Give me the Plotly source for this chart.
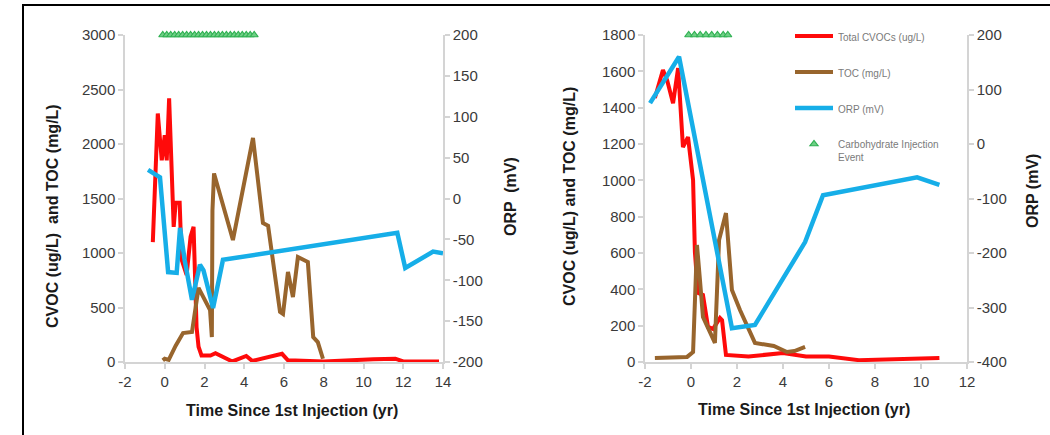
import plotly.graph_objects as go

# ---------------- Left panel data ----------------
L_cvoc_x = [-0.6, -0.35, -0.15, 0.0, 0.1, 0.22, 0.45, 0.55, 0.75, 0.85, 1.1, 1.3, 1.45,
            1.6, 1.7, 1.85, 2.3, 2.55, 3.4, 4.1, 4.4, 5.9, 6.2, 8.0, 10.5, 11.6, 12.0, 13.8]
L_cvoc_y = [1100, 2280, 1850, 2080, 1850, 2420, 1240, 1460, 1460, 940, 800, 1150, 1240,
            320, 140, 60, 60, 80, 5, 55, 10, 75, 15, 5, 25, 30, 5, 5]

L_toc_x = [-0.1, 0.0, 0.2, 0.55, 0.92, 1.37, 1.7, 1.95, 2.28, 2.37, 2.4, 2.48, 3.43,
           4.44, 4.94, 5.2, 5.8, 5.95, 6.2, 6.45, 6.7, 7.2, 7.47, 7.7, 7.96]
L_toc_y = [15, 30, 20, 150, 266, 275, 680, 600, 477, 229, 1390, 1730, 1119,
           2055, 1275, 1250, 459, 440, 826, 596, 963, 917, 229, 183, 30]

L_orp_x = [-0.84, -0.24, 0.17, 0.6, 0.77, 1.0, 1.37, 1.77, 1.95, 2.43, 2.93, 11.7, 12.1, 13.5, 14.0]
L_orp_y = [35, 26, -90, -91, -36, -75, -124, -81, -88, -134, -75, -42, -85, -65, -67]

L_inj_x = [-0.1, 0.1, 0.3, 0.5, 0.7, 0.9, 1.1, 1.3, 1.5, 1.7, 1.9, 2.1, 2.3, 2.5,
           2.7, 2.9, 3.1, 3.3, 3.5, 3.7, 3.9, 4.1, 4.3, 4.5]
L_inj_y = [3000] * len(L_inj_x)

# ---------------- Right panel data ----------------
R_cvoc_x = [-1.57, -1.22, -1.04, -0.78, -0.56, -0.35, -0.13, 0.09, 0.17, 0.3, 0.52, 0.74,
            0.96, 1.26, 1.35, 1.52, 2.5, 4.0, 5.0, 6.0, 7.3, 10.8]
R_cvoc_y = [1453, 1607, 1552, 1425, 1618, 1183, 1238, 1002, 605, 380, 369, 193,
            182, 242, 230, 39, 30, 50, 30, 30, 10, 22]

R_toc_x = [-1.57, -0.17, 0.09, 0.26, 0.39, 0.52, 1.04, 1.22, 1.52, 1.78, 2.13, 2.78,
           3.6, 4.17, 4.5, 4.96]
R_toc_y = [22, 28, 55, 644, 451, 248, 105, 671, 820, 396, 286, 105,
           88, 55, 60, 83]

R_orp_x = [-1.78, -0.52, 1.78, 2.78, 4.96, 5.74, 9.83, 10.8]
R_orp_y = [75, 160, -338, -332, -180, -94, -61, -75]

R_inj_x = [-0.1, 0.15, 0.4, 0.65, 0.9, 1.15, 1.4, 1.6]
R_inj_y = [1800] * len(R_inj_x)

# ---------------- Tick labels ----------------
L_x_ticks = [-2, 0, 2, 4, 6, 8, 10, 12, 14]
L_y_ticks = [0, 500, 1000, 1500, 2000, 2500, 3000]
L_orp_ticks = [-200, -150, -100, -50, 0, 50, 100, 150, 200]
R_x_ticks = [-2, 0, 2, 4, 6, 8, 10, 12]
R_y_ticks = [0, 200, 400, 600, 800, 1000, 1200, 1400, 1600, 1800]
R_orp_ticks = [-400, -300, -200, -100, 0, 100, 200]

# ---------------- Styles ----------------
RED = "#ff0a0a"
BROWN = "#98652d"
BLUE = "#16aee8"
GREEN = "#2fb152"
AXC = "#d4d4d4"
TICKC = "#3a3a3a"
FONT = "Liberation Sans, Arial, sans-serif"

fig = go.Figure()

# Left panel
fig.add_trace(go.Scatter(x=L_cvoc_x, y=L_cvoc_y, mode="lines", line=dict(color=RED, width=4),
                         xaxis="x", yaxis="y", showlegend=False))
fig.add_trace(go.Scatter(x=L_toc_x, y=L_toc_y, mode="lines", line=dict(color=BROWN, width=4),
                         xaxis="x", yaxis="y", showlegend=False))
fig.add_trace(go.Scatter(x=L_orp_x, y=L_orp_y, mode="lines", line=dict(color=BLUE, width=4.5),
                         xaxis="x", yaxis="y2", showlegend=False))
fig.add_trace(go.Scatter(x=L_inj_x, y=L_inj_y, mode="markers",
                         marker=dict(symbol="triangle-up", size=7, color="#6fcf86",
                                     line=dict(color=GREEN, width=1.2)),
                         cliponaxis=False, xaxis="x", yaxis="y", showlegend=False))

# Right panel
fig.add_trace(go.Scatter(x=R_cvoc_x, y=R_cvoc_y, mode="lines", line=dict(color=RED, width=4),
                         xaxis="x2", yaxis="y3", name="Total CVOCs (ug/L)", legendgroup="a"))
fig.add_trace(go.Scatter(x=R_toc_x, y=R_toc_y, mode="lines", line=dict(color=BROWN, width=4),
                         xaxis="x2", yaxis="y3", name="TOC (mg/L)", legendgroup="b"))
fig.add_trace(go.Scatter(x=R_orp_x, y=R_orp_y, mode="lines", line=dict(color=BLUE, width=4.5),
                         xaxis="x2", yaxis="y4", name="ORP (mV)", legendgroup="c"))
fig.add_trace(go.Scatter(x=R_inj_x, y=R_inj_y, mode="markers",
                         marker=dict(symbol="triangle-up", size=7, color="#6fcf86",
                                     line=dict(color=GREEN, width=1.2)),
                         cliponaxis=False, xaxis="x2", yaxis="y3",
                         name="Carbohydrate Injection<br>Event", legendgroup="d"))

W, H = 1050, 435
yd = [1 - 362 / H, 1 - 35 / H]

axis_common = dict(showline=True, linecolor=AXC, linewidth=1.5, ticks="outside",
                   ticklen=5, tickcolor=AXC, tickwidth=1.5, showgrid=False, zeroline=False,
                   automargin=False, tickmode="array",
                   tickfont=dict(family=FONT, size=15, color=TICKC))


def tk(vals):
    return dict(tickvals=vals, ticktext=[str(v) for v in vals])


fig.update_layout(
    width=W, height=H, autosize=False,
    margin=dict(l=0, r=0, t=0, b=0, pad=0),
    paper_bgcolor="white", plot_bgcolor="white",
    font=dict(family=FONT),
    xaxis=dict(domain=[125 / W, 443 / W], range=[-2, 14], anchor="y", **tk(L_x_ticks), **axis_common),
    yaxis=dict(domain=yd, range=[0, 3000], anchor="x", **tk(L_y_ticks), **axis_common),
    yaxis2=dict(range=[-200, 200], overlaying="y", side="right", anchor="x",
                **tk(L_orp_ticks), **axis_common),
    xaxis2=dict(domain=[645 / W, 967 / W], range=[-2, 12], anchor="y3", **tk(R_x_ticks), **axis_common),
    yaxis3=dict(domain=yd, range=[0, 1800], anchor="x2", **tk(R_y_ticks), **axis_common),
    yaxis4=dict(range=[-400, 200], overlaying="y3", side="right", anchor="x2",
                **tk(R_orp_ticks), **axis_common),
    legend=dict(x=790 / W, y=1 - 23 / H, xanchor="left", yanchor="top",
                bgcolor="rgba(0,0,0,0)", tracegroupgap=17, valign="top", itemwidth=38,
                font=dict(family=FONT, size=10, color="#7a7a7a")),
)

title_font = dict(family=FONT, size=16, color="#1a1a1a")
annots = [
    dict(text="<b>CVOC (ug/L)  and TOC (mg/L)</b>", x=52, y=216, textangle=-90),
    dict(text="<b>ORP  (mV)</b>", x=510, y=197, textangle=-90),
    dict(text="<b>CVOC (ug/L) and TOC (mg/L)</b>", x=569, y=197, textangle=-90),
    dict(text="<b>ORP (mV)</b>", x=1032, y=191, textangle=-90),
    dict(text="<b>Time Since 1st Injection (yr)</b>", x=292, y=410, textangle=0),
    dict(text="<b>Time Since 1st Injection (yr)</b>", x=804, y=409, textangle=0),
]
for a in annots:
    fig.add_annotation(text=a["text"], x=a["x"] / W, y=1 - a["y"] / H, xref="paper",
                       yref="paper", showarrow=False, textangle=a["textangle"],
                       xanchor="center", yanchor="middle", font=title_font)

# Outer frame lines
fig.add_shape(type="line", xref="paper", yref="paper", x0=23 / W, x1=23 / W,
              y0=0, y1=1 - 4 / H, line=dict(color="black", width=2))
fig.add_shape(type="line", xref="paper", yref="paper", x0=22 / W, x1=1,
              y0=1 - 5 / H, y1=1 - 5 / H, line=dict(color="black", width=2))

fig.write_html("out.html", config={"displayModeBar": False},
               post_script="document.body.style.margin='0';document.body.style.overflow='hidden';")
